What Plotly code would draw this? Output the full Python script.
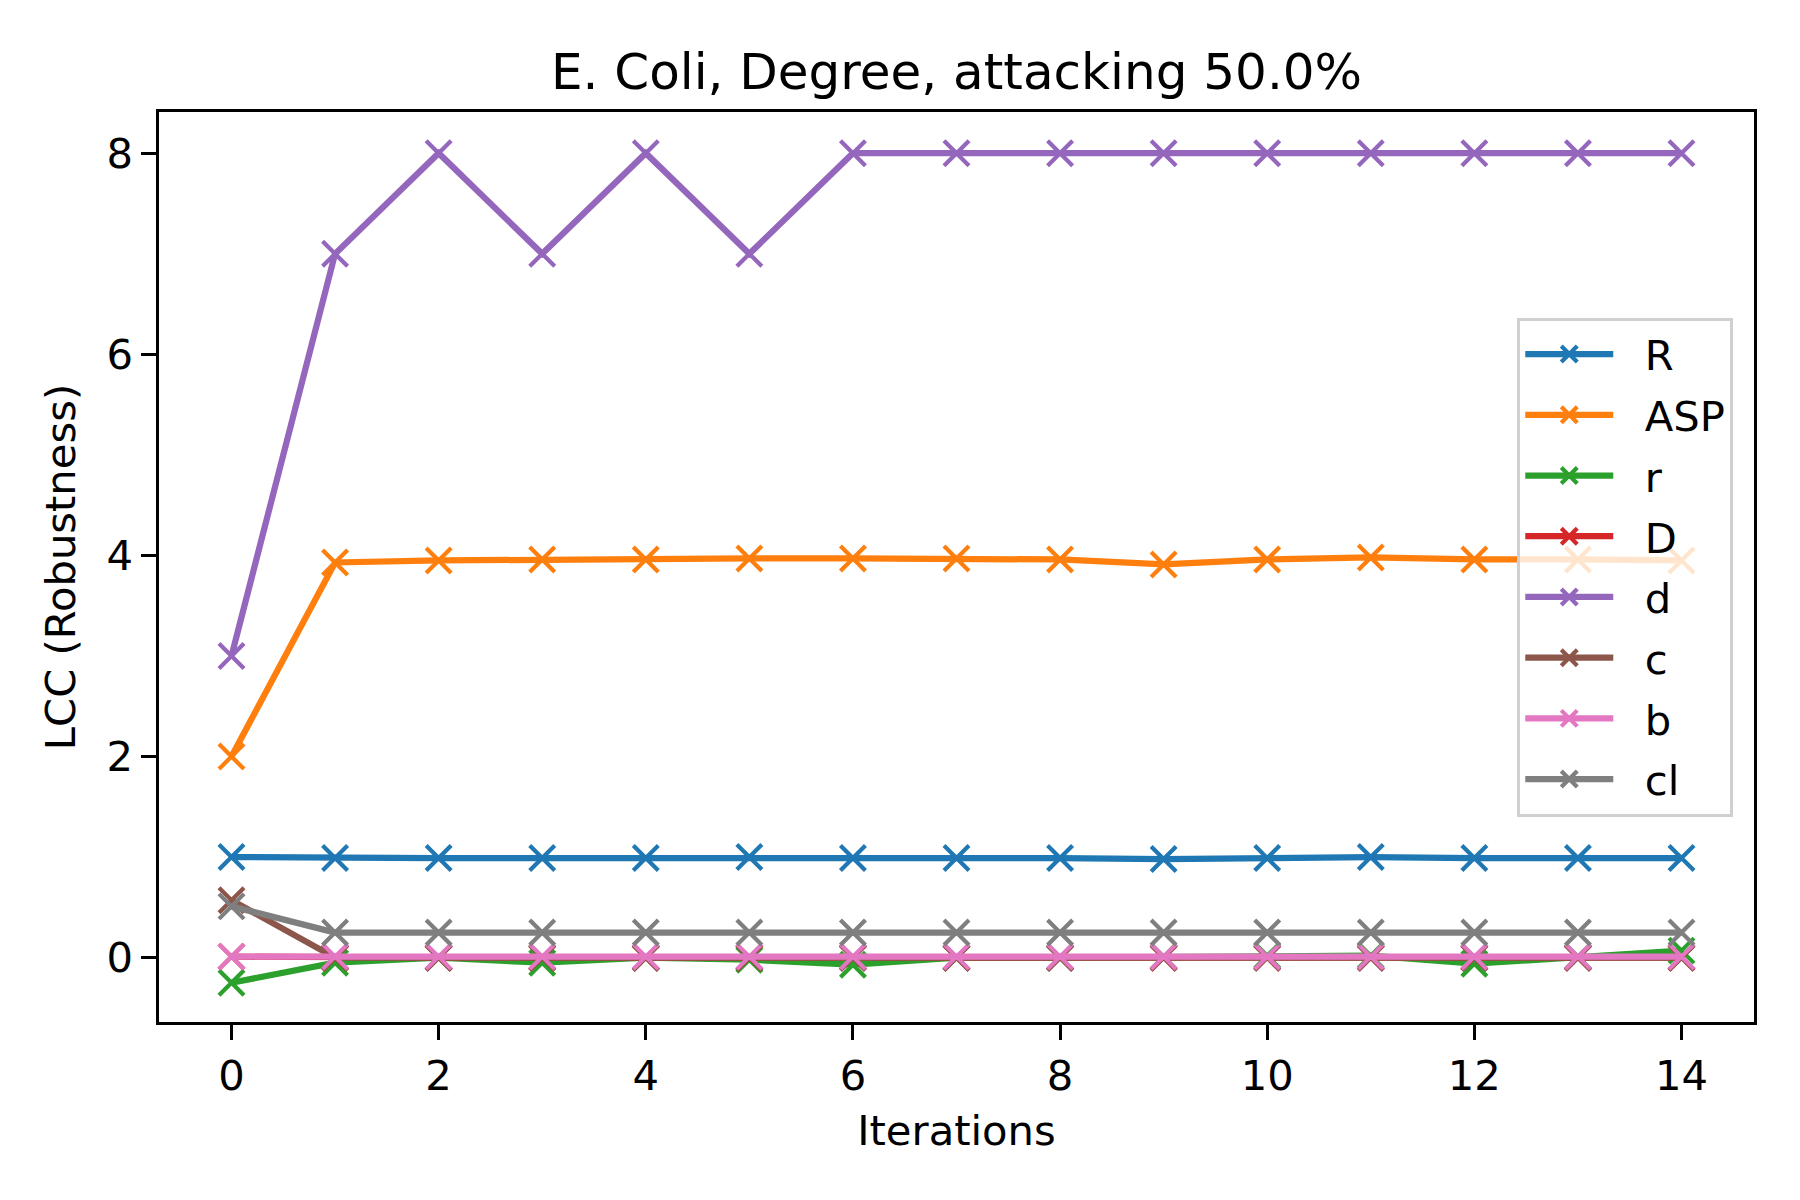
import plotly.graph_objects as go

# Iterations de l'attaque
iterations = list(range(15))

# Valeurs
R = [1.00, 0.99, 0.99, 0.99, 0.99, 1.00, 0.99, 0.99, 0.99, 0.98, 0.99, 1.00, 0.99, 0.99, 0.99]
ASP = [2.00, 3.93, 3.95, 3.96, 3.96, 3.97, 3.97, 3.97, 3.96, 3.91, 3.96, 3.98, 3.96, 3.96, 3.95]
r = [-0.25, -0.05, 0.00, -0.05, 0.00, -0.02, -0.07, 0.00, 0.00, 0.01, 0.02, 0.02, -0.06, 0.01, 0.07]
D = [0.01, 0.00, 0.00, 0.00, 0.00, 0.00, 0.00, 0.00, 0.00, 0.00, 0.00, 0.00, 0.00, 0.00, 0.00]
d = [3, 7, 8, 7, 8, 7, 8, 8, 8, 8, 8, 8, 8, 8, 8]
c = [0.57, 0.00, 0.00, 0.00, 0.00, 0.00, 0.00, 0.00, 0.00, 0.00, 0.00, 0.00, 0.00, 0.00, 0.00]
b = [0.01, 0.01, 0.01, 0.01, 0.01, 0.01, 0.01, 0.01, 0.01, 0.01, 0.01, 0.01, 0.01, 0.01, 0.01]
cl = [0.51, 0.25, 0.25, 0.25, 0.25, 0.25, 0.25, 0.25, 0.25, 0.25, 0.25, 0.25, 0.25, 0.25, 0.25]

series = [("R", R, "#1f77b4"), ("ASP", ASP, "#ff7f0e"), ("r", r, "#2ca02c"), ("D", D, "#d62728"),
          ("d", d, "#9467bd"), ("c", c, "#8c564b"), ("b", b, "#e377c2"), ("cl", cl, "#7f7f7f")]

fig = go.Figure()
for name, vals, col in series:
    fig.add_trace(go.Scatter(x=iterations, y=vals, mode='lines+markers', name='  ' + name,
                             legendgroup=name,
                             line=dict(color=col, width=6.25),
                             marker=dict(symbol='x-thin', size=25, line=dict(color=col, width=4.2))))

axis_style = dict(showline=True, mirror=True, linecolor='black', linewidth=3.3,
                  ticks='outside', ticklen=14.6, tickwidth=3.3, tickcolor='black',
                  showgrid=False, zeroline=False, tickfont=dict(size=41.7, color='black'))

fig.update_layout(width=1800, height=1200,
                  paper_bgcolor='white', plot_bgcolor='white',
                  font=dict(family='DejaVu Sans', color='black'),
                  margin=dict(l=151, r=54, t=104, b=186),
                  title=dict(text="E. Coli, Degree, attacking 50.0%", xref='paper', x=0.5, xanchor='center',
                             y=0.9474, yanchor='middle', font=dict(size=50)),
                  xaxis=dict(title=dict(text='Iterations', font=dict(size=41.7), standoff=18),
                             range=[-0.7, 14.7], tickvals=list(range(0, 15, 2)), **axis_style),
                  yaxis=dict(title=dict(text='LCC (Robustness)', font=dict(size=41.7), standoff=18),
                             range=[-0.64, 8.41], tickvals=[0, 2, 4, 6, 8], **axis_style),
                  legend=dict(x=0.987, xanchor='right', y=0.5, yanchor='middle',
                              bgcolor='rgba(255,255,255,0.8)', bordercolor='#d0d0d0', borderwidth=3,
                              font=dict(size=41.7), itemwidth=88, tracegroupgap=3.5),
                  showlegend=True)

fig.write_html("out.html")
